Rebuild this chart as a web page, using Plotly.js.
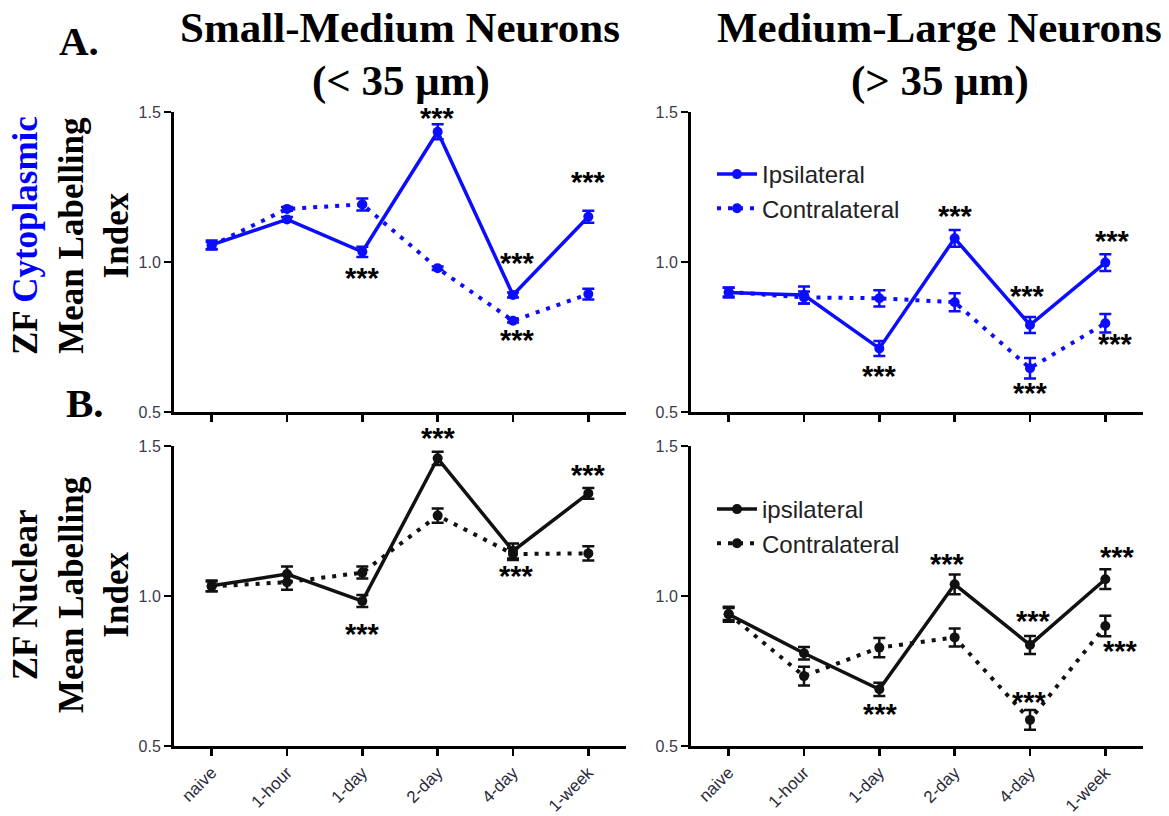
<!DOCTYPE html>
<html>
<head>
<meta charset="utf-8">
<script src="https://cdn.plot.ly/plotly-3.0.1.min.js"></script>
<style>
  html, body { margin: 0; padding: 0; background: #fff; }
  #chart { width: 1169px; height: 816px; }
</style>
</head>
<body>
<div id="chart"></div>
<script>
// Time points after injury
const categories = ['naive', '1-hour', '1-day', '2-day', '4-day', '1-week'];
const yTickVals = [0.5, 1.0, 1.5];
const yTickText = ['0.5', '1.0', '1.5'];

// A. Cytoplasmic labelling, small-medium neurons (< 35 µm)
const cytoSmallIpsi       = [1.057, 1.142, 1.034, 1.434, 0.890, 1.151];
const cytoSmallIpsiErr    = [0.015, 0.008, 0.017, 0.025, 0.008, 0.020];
const cytoSmallContra     = [1.055, 1.177, 1.192, 0.979, 0.804, 0.893];
const cytoSmallContraErr  = [0.012, 0.006, 0.020, 0.006, 0.006, 0.018];

// A. Cytoplasmic labelling, medium-large neurons (> 35 µm)
const cytoLargeIpsi       = [0.898, 0.890, 0.712, 1.079, 0.790, 0.998];
const cytoLargeIpsiErr    = [0.016, 0.028, 0.025, 0.028, 0.027, 0.028];
const cytoLargeContra     = [0.900, 0.882, 0.879, 0.866, 0.646, 0.796];
const cytoLargeContraErr  = [0.015, 0.020, 0.027, 0.030, 0.034, 0.031];

// B. Nuclear labelling, small-medium neurons (< 35 µm)
const nucSmallIpsi        = [1.034, 1.073, 0.983, 1.459, 1.150, 1.342];
const nucSmallIpsiErr     = [0.018, 0.025, 0.020, 0.022, 0.025, 0.018];
const nucSmallContra      = [1.032, 1.046, 1.078, 1.268, 1.140, 1.142];
const nucSmallContraErr   = [0.016, 0.025, 0.020, 0.024, 0.020, 0.024];

// B. Nuclear labelling, medium-large neurons (> 35 µm)
const nucLargeIpsi        = [0.939, 0.809, 0.689, 1.039, 0.837, 1.056];
const nucLargeIpsiErr     = [0.025, 0.021, 0.022, 0.033, 0.030, 0.033];
const nucLargeContra      = [0.940, 0.733, 0.828, 0.862, 0.587, 0.900];
const nucLargeContraErr   = [0.020, 0.031, 0.032, 0.030, 0.033, 0.034];

// Legend names
const cytoNames = ['Ipsilateral', 'Contralateral'];
const nucNames  = ['ipsilateral', 'Contralateral'];

// Significance markers: panel, series, time point, pixel offset from the point
// (dy > 0 puts the stars below the point)
const sigMarks = [
  {p: 0, s: 'ipsi',   i: 2, dx: 0,  dy: 23},
  {p: 0, s: 'ipsi',   i: 3, dx: 0,  dy: -17},
  {p: 0, s: 'ipsi',   i: 4, dx: 4,  dy: -35},
  {p: 0, s: 'contra', i: 4, dx: 4,  dy: 16},
  {p: 0, s: 'ipsi',   i: 5, dx: 0,  dy: -38},
  {p: 1, s: 'ipsi',   i: 2, dx: 0,  dy: 25},
  {p: 1, s: 'ipsi',   i: 3, dx: 1,  dy: -25},
  {p: 1, s: 'ipsi',   i: 4, dx: -3, dy: -32},
  {p: 1, s: 'contra', i: 4, dx: 0,  dy: 22},
  {p: 1, s: 'ipsi',   i: 5, dx: 7,  dy: -25},
  {p: 1, s: 'contra', i: 5, dx: 10, dy: 18},
  {p: 2, s: 'ipsi',   i: 2, dx: 0,  dy: 30},
  {p: 2, s: 'ipsi',   i: 3, dx: 1,  dy: -23},
  {p: 2, s: 'contra', i: 4, dx: 3,  dy: 19},
  {p: 2, s: 'ipsi',   i: 5, dx: 0,  dy: -21},
  {p: 3, s: 'ipsi',   i: 2, dx: 1,  dy: 22},
  {p: 3, s: 'ipsi',   i: 3, dx: -7, dy: -23},
  {p: 3, s: 'ipsi',   i: 4, dx: 3,  dy: -27},
  {p: 3, s: 'contra', i: 4, dx: -1, dy: -21},
  {p: 3, s: 'ipsi',   i: 5, dx: 12, dy: -25},
  {p: 3, s: 'contra', i: 5, dx: 15, dy: 22}
];

const W = 1169, H = 816;
const px = v => v / W;
const py = v => 1 - v / H;

const BLUE = '#0c0cff';
const BLACK = '#111111';

const panels = [
  {xa: 'x',  ya: 'y',  ipsi: cytoSmallIpsi, ipsiErr: cytoSmallIpsiErr, contra: cytoSmallContra, contraErr: cytoSmallContraErr, color: BLUE,  names: cytoNames, legend: null},
  {xa: 'x2', ya: 'y2', ipsi: cytoLargeIpsi, ipsiErr: cytoLargeIpsiErr, contra: cytoLargeContra, contraErr: cytoLargeContraErr, color: BLUE,  names: cytoNames, legend: 'legend'},
  {xa: 'x3', ya: 'y3', ipsi: nucSmallIpsi,  ipsiErr: nucSmallIpsiErr,  contra: nucSmallContra,  contraErr: nucSmallContraErr,  color: BLACK, names: nucNames,  legend: null},
  {xa: 'x4', ya: 'y4', ipsi: nucLargeIpsi,  ipsiErr: nucLargeIpsiErr,  contra: nucLargeContra,  contraErr: nucLargeContraErr,  color: BLACK, names: nucNames,  legend: 'legend2'}
];

const traces = [];
panels.forEach(pn => {
  // contralateral (dotted) drawn first so the ipsilateral line sits on top
  traces.push({
    type: 'scatter', mode: 'lines+markers',
    x: categories, y: pn.contra, xaxis: pn.xa, yaxis: pn.ya,
    name: pn.names[1],
    line: {color: pn.color, width: 4, dash: '4px,7px'},
    marker: {color: pn.color, size: 10, symbol: 'circle'},
    error_y: {type: 'data', array: pn.contraErr, visible: true, color: pn.color, thickness: 2.5, width: 6},
    showlegend: !!pn.legend, legend: pn.legend || 'legend', legendrank: 2,
    cliponaxis: false, hoverinfo: 'skip'
  });
  traces.push({
    type: 'scatter', mode: 'lines+markers',
    x: categories, y: pn.ipsi, xaxis: pn.xa, yaxis: pn.ya,
    name: pn.names[0],
    line: {color: pn.color, width: 3.5},
    marker: {color: pn.color, size: 10, symbol: 'circle'},
    error_y: {type: 'data', array: pn.ipsiErr, visible: true, color: pn.color, thickness: 2.5, width: 6},
    showlegend: !!pn.legend, legend: pn.legend || 'legend', legendrank: 1,
    cliponaxis: false, hoverinfo: 'skip'
  });
});

// Axis geometry (pixels)
const xDomLeft  = [px(174), px(626)];
const xDomRight = [px(691), px(1143)];
const yDomTop   = [py(412), py(112)];
const yDomBot   = [py(746), py(446)];

function xAxis(domain, anchor, showLabels) {
  return {
    domain: domain, anchor: anchor, type: 'category',
    range: [-0.5, 5.5], showgrid: false, zeroline: false,
    showline: true, linecolor: '#000', linewidth: 3,
    ticks: 'outside', ticklen: 7, tickwidth: 2.5, tickcolor: '#000',
    showticklabels: showLabels, tickangle: -45,
    tickfont: {family: 'Liberation Sans, Arial, sans-serif', size: 17, color: '#2a2a3a'}
  };
}
function yAxis(domain, anchor) {
  return {
    domain: domain, anchor: anchor, range: [0.5, 1.5],
    tickvals: yTickVals, ticktext: yTickText,
    showgrid: false, zeroline: false,
    showline: true, linecolor: '#000', linewidth: 3,
    ticks: 'outside', ticklen: 7, tickwidth: 2.5, tickcolor: '#000',
    tickfont: {family: 'Liberation Sans, Arial, sans-serif', size: 16, color: '#3a3a4a'}
  };
}

const serif = 'Liberation Serif, Times New Roman, serif';
const annotations = [
  {text: 'Small-Medium Neurons', x: px(400), y: py(28)},
  {text: '(< 35 μm)',            x: px(401), y: py(81)},
  {text: 'Medium-Large Neurons', x: px(939), y: py(28)},
  {text: '(> 35 μm)',            x: px(940), y: py(81)}
].map(a => Object.assign(a, {
  xref: 'paper', yref: 'paper', showarrow: false, xanchor: 'center', yanchor: 'middle',
  font: {family: serif, size: 43, color: '#000', weight: 'bold'}
}));

annotations.push(
  {text: 'A.', x: px(79), y: py(41)},
  {text: 'B.', x: px(85), y: py(403)}
);
annotations.slice(-2).forEach(a => Object.assign(a, {
  xref: 'paper', yref: 'paper', showarrow: false, xanchor: 'center', yanchor: 'middle',
  font: {family: serif, size: 41, color: '#000', weight: 'bold'}
}));

annotations.push(
  {text: 'ZF <span style="color:#0000ff">Cytoplasmic</span><br>Mean Labelling<br>Index', x: px(71), y: py(236)},
  {text: 'ZF Nuclear<br>Mean Labelling<br>Index', x: px(71), y: py(595)}
);
annotations.slice(-2).forEach(a => Object.assign(a, {
  xref: 'paper', yref: 'paper', showarrow: false, xanchor: 'center', yanchor: 'middle',
  textangle: -90, font: {family: serif, size: 35, color: '#000', weight: 'bold'}
}));

// Significance stars, anchored on the data point they refer to
const STAR_RISE = 3;
sigMarks.forEach(m => {
  const pn = panels[m.p];
  annotations.push({
    xref: pn.xa, yref: pn.ya, x: m.i, y: pn[m.s][m.i],
    text: '***', showarrow: false, xanchor: 'center', yanchor: 'middle',
    xshift: m.dx, yshift: -m.dy - STAR_RISE,
    font: {family: 'Liberation Sans, Arial, sans-serif', size: 29, color: '#000', weight: 'bold'}
  });
});

const legendStyle = (top) => ({
  x: px(712), y: py(top), xanchor: 'left', yanchor: 'top',
  bgcolor: 'rgba(0,0,0,0)', borderwidth: 0,
  font: {family: 'Liberation Sans, Arial, sans-serif', size: 24, color: '#222'},
  itemwidth: 40, tracegroupgap: 0, traceorder: 'normal'
});

const layout = {
  width: W, height: H,
  margin: {l: 0, r: 0, t: 0, b: 0},
  paper_bgcolor: '#fff', plot_bgcolor: 'rgba(0,0,0,0)',
  font: {family: 'Liberation Sans, Arial, sans-serif', color: '#000'},
  showlegend: true,
  legend: legendStyle(152),
  legend2: legendStyle(487),
  xaxis:  xAxis(xDomLeft,  'y',  false),
  yaxis:  yAxis(yDomTop,   'x'),
  xaxis2: xAxis(xDomRight, 'y2', false),
  yaxis2: yAxis(yDomTop,   'x2'),
  xaxis3: xAxis(xDomLeft,  'y3', true),
  yaxis3: yAxis(yDomBot,   'x3'),
  xaxis4: xAxis(xDomRight, 'y4', true),
  yaxis4: yAxis(yDomBot,   'x4'),
  annotations: annotations
};

Plotly.newPlot('chart', traces, layout, {displayModeBar: false, staticPlot: true});
</script>
</body>
</html>
